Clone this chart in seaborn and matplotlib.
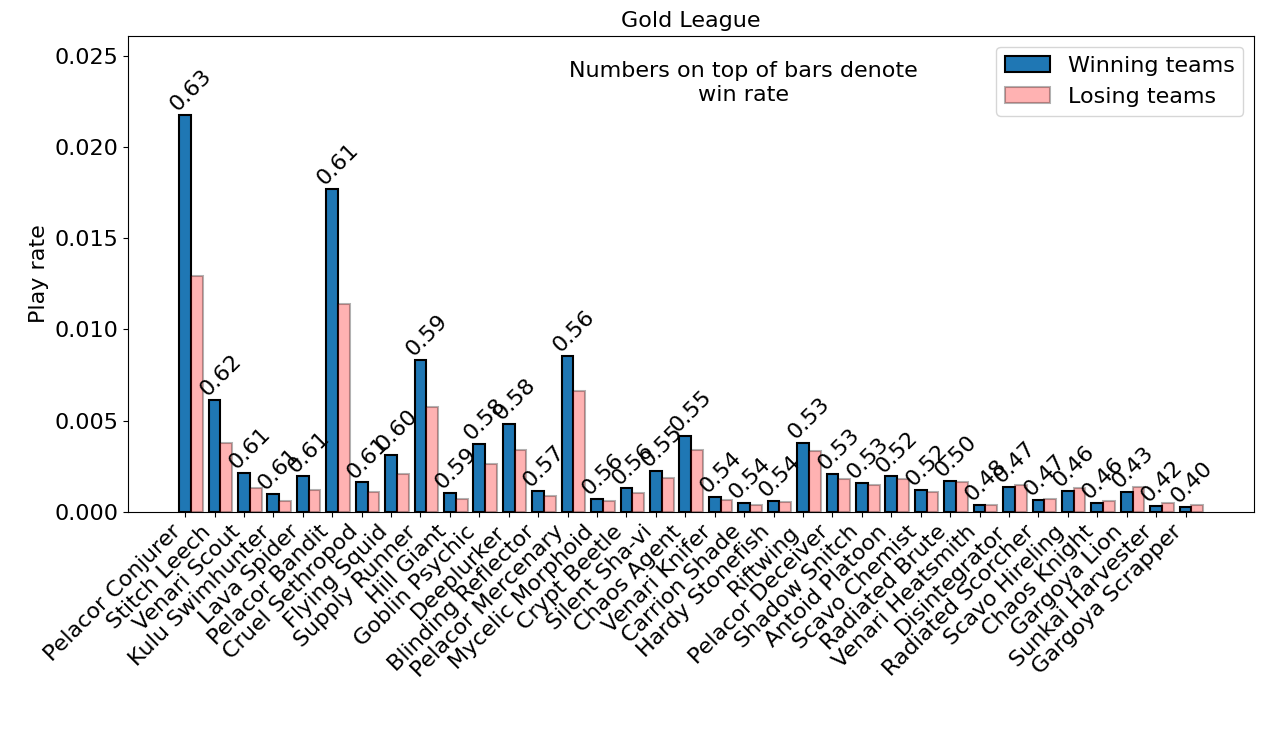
import numpy as np
import pandas as pd
import matplotlib
matplotlib.use("Agg")
import matplotlib.pyplot as plt
import seaborn as sns

cards = ["Pelacor Conjurer", "Stitch Leech", "Venari Scout", "Kulu Swimhunter",
         "Lava Spider", "Pelacor Bandit", "Cruel Sethropod", "Flying Squid",
         "Supply Runner", "Hill Giant", "Goblin Psychic", "Deeplurker",
         "Blinding Reflector", "Pelacor Mercenary", "Mycelic Morphoid",
         "Crypt Beetle", "Silent Sha-vi", "Chaos Agent", "Venari Knifer",
         "Carrion Shade", "Hardy Stonefish", "Riftwing", "Pelacor Deceiver",
         "Shadow Snitch", "Antoid Platoon", "Scavo Chemist", "Radiated Brute",
         "Venari Heatsmith", "Disintegrator", "Radiated Scorcher",
         "Scavo Hireling", "Chaos Knight", "Gargoya Lion", "Sunkai Harvester",
         "Gargoya Scrapper"]

winning = [0.02176, 0.00615, 0.00213, 0.00097, 0.00194, 0.01769, 0.00161,
           0.00313, 0.00835, 0.00103, 0.00372, 0.00482, 0.00115, 0.00857,
           0.00070, 0.00128, 0.00225, 0.00414, 0.00079, 0.00046, 0.00059,
           0.00379, 0.00209, 0.00159, 0.00194, 0.00119, 0.00169, 0.00038,
           0.00134, 0.00066, 0.00115, 0.00048, 0.00108, 0.00033, 0.00027]

losing = [0.01293, 0.00377, 0.00130, 0.00060, 0.00121, 0.01137, 0.00108,
          0.00209, 0.00573, 0.00071, 0.00264, 0.00341, 0.00088, 0.00665,
          0.00057, 0.00103, 0.00183, 0.00339, 0.00066, 0.00037, 0.00053,
          0.00333, 0.00181, 0.00145, 0.00178, 0.00108, 0.00163, 0.00038,
          0.00148, 0.00070, 0.00128, 0.00060, 0.00137, 0.00046, 0.00037]

win_rate = [0.63, 0.62, 0.61, 0.61, 0.61, 0.61, 0.61, 0.60, 0.59, 0.59, 0.58,
            0.58, 0.57, 0.56, 0.56, 0.56, 0.55, 0.55, 0.54, 0.54, 0.54, 0.53,
            0.53, 0.53, 0.52, 0.52, 0.50, 0.48, 0.47, 0.47, 0.46, 0.46, 0.43,
            0.42, 0.40]

plt.rcParams['font.family'] = ['DejaVu Sans']

fig, ax = plt.subplots(figsize=(12.8, 7.31), dpi=100)
fig.subplots_adjust(left=0.1, right=0.98, top=0.951, bottom=0.3)

n = len(cards)
pos = np.arange(n, dtype=float)
width = 0.4

df = pd.DataFrame({"pos": pos, "pos2": pos + width, "win": winning,
                   "lose": losing, "wr": win_rate})

sns.barplot(data=df, x="pos", y="win", native_scale=True, width=width,
            color="#1f77b4", saturation=1, edgecolor="black", linewidth=1.5,
            ax=ax)
sns.barplot(data=df, x="pos2", y="lose", native_scale=True, width=width,
            color="red", alpha=0.3, saturation=1, edgecolor="black",
            linewidth=1.5, ax=ax)

for i in range(n):
    ax.text(pos[i] + width / 2, winning[i], f"{win_rate[i]:.2f}", rotation=45,
            ha="center", va="bottom", fontsize=16)

ax.set_xlim(-0.2 - 0.05 * (n - 1 + 2 * width),
            n - 1 + 1.5 * width + 0.05 * (n - 1 + 2 * width))
ax.set_ylim(0, 1.2 * max(winning))
ax.set_xticks(pos)
ax.set_xticklabels(cards, rotation=45, ha="right", fontsize=16)
ax.tick_params(axis="y", labelsize=16)
ax.set_xlabel("")
ax.set_ylabel("Play rate", fontsize=16)
ax.set_title("Gold League", fontsize=16)

ax.text(0.546, 0.901, "Numbers on top of bars denote\nwin rate",
        transform=ax.transAxes, ha="center", va="center", fontsize=16)

ax.legend(handles=[ax.containers[0], ax.containers[1]],
          labels=["Winning teams", "Losing teams"], loc="upper right",
          fontsize=16)

fig.savefig("out.png", dpi=100)
